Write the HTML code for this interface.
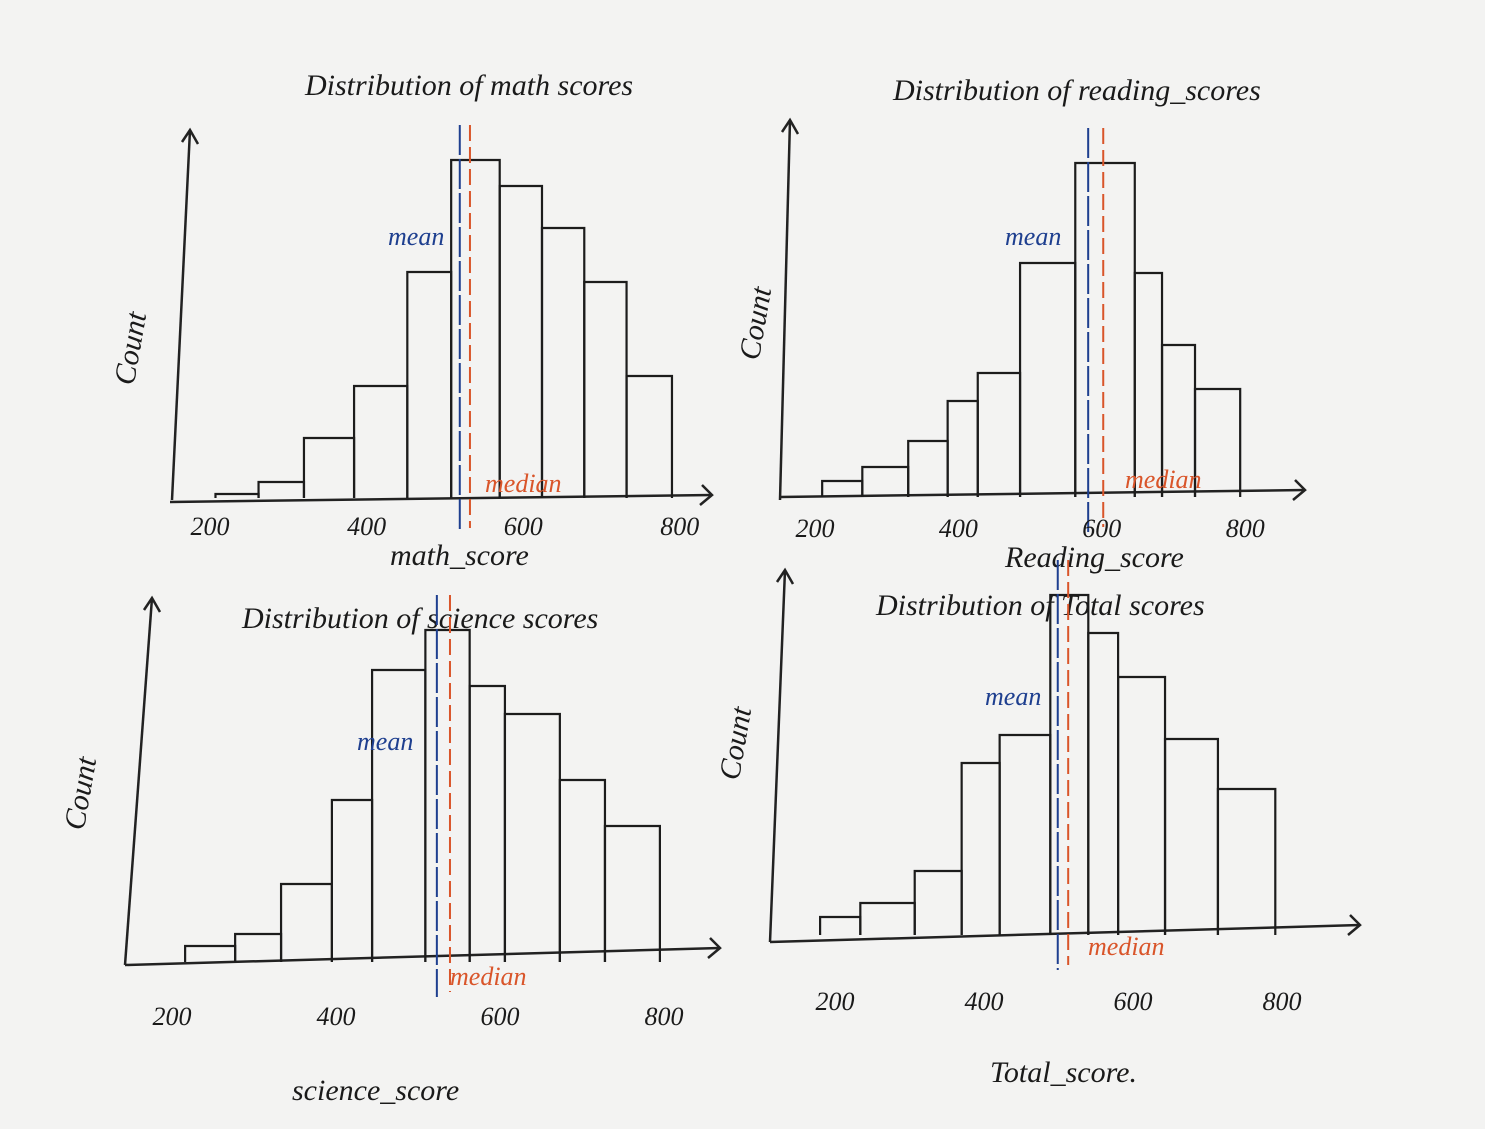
<!DOCTYPE html>
<html><head><meta charset="utf-8">
<style>
html,body{margin:0;padding:0;background:#f3f3f2;}
svg{display:block;}
text{font-family:"Liberation Serif",serif;font-style:italic;}
</style></head>
<body>
<svg id="chart" width="1485" height="1129" viewBox="0 0 1485 1129" xmlns="http://www.w3.org/2000/svg">
<rect x="0" y="0" width="1485" height="1129" fill="#f3f3f2"/>
</svg>
<script>
// Data: bin edges (score), counts per bin, mean & median (score)
const mathEdges = [207, 262, 320, 384, 452, 508, 570, 624, 678, 732, 790];
const mathCounts = [2, 8, 30, 56, 113, 169, 156, 135, 108, 61];
const mathStats = [519, 532];
const readingEdges = [210, 266, 330, 385, 427, 486, 563, 646, 684, 730, 793];
const readingCounts = [8, 15, 28, 48, 62, 117, 167, 112, 76, 54];
const readingStats = [581, 602];
const scienceEdges = [216, 277, 333, 395, 444, 509, 563, 606, 673, 728, 795];
const scienceCounts = [8, 14, 39, 81, 146, 166, 138, 124, 91, 68];
const scienceStats = [523, 539];
const totalEdges = [180, 234, 307, 370, 421, 489, 540, 580, 643, 714, 791];
const totalCounts = [9, 16, 32, 86, 100, 170, 151, 129, 98, 73];
const totalStats = [499, 513];
const tickLabels = ["200", "400", "600", "800"];
const tickValues = [200, 400, 600, 800];

const panels = [
 {id:"math", edges:mathEdges, counts:mathCounts, stats:mathStats, x0:210, sx:0.783, base:498, sy:2,
  ax:[172,500,190,130], xa:[170,502,712,495], title:"Distribution of math scores", tx:305, ty:95, xlab:"math_score", xlx:390, xly:565, ylx:140, yly:350,
  meanLab:[388,245], medLab:[485,492], tickY:535},
 {id:"reading", edges:readingEdges, counts:readingCounts, stats:readingStats, x0:815, sx:0.717, base:497, sy:2,
  ax:[780,500,790,120], xa:[780,497,1305,490], title:"Distribution of reading_scores", tx:893, ty:100, xlab:"Reading_score", xlx:1005, xly:567, ylx:765, yly:325,
  meanLab:[1005,245], medLab:[1125,488], tickY:537},
 {id:"science", edges:scienceEdges, counts:scienceCounts, stats:scienceStats, x0:172, sx:0.82, base:962, sy:2,
  ax:[125,965,152,598], xa:[125,965,720,948], title:"Distribution of science scores", tx:242, ty:628, xlab:"science_score", xlx:292, xly:1100, ylx:90, yly:795,
  meanLab:[357,750], medLab:[450,985], tickY:1025},
 {id:"total", edges:totalEdges, counts:totalCounts, stats:totalStats, x0:835, sx:0.745, base:935, sy:2,
  ax:[770,942,785,570], xa:[770,942,1360,925], title:"Distribution of Total scores", tx:876, ty:615, xlab:"Total_score.", xlx:990, xly:1082, ylx:745, yly:745,
  meanLab:[985,705], medLab:[1088,955], tickY:1010}
];

const svg = document.getElementById('chart');
const NS = "http://www.w3.org/2000/svg";
function mk(tag, attrs){const e=document.createElementNS(NS,tag);for(const k in attrs)e.setAttribute(k,attrs[k]);svg.appendChild(e);return e;}

panels.forEach(p=>{
  const xs = v => p.x0 + (v-200)*p.sx;
  const ys = c => p.base - c*p.sy;
  // title
  let t = mk('text',{x:p.tx,y:p.ty,'font-size':30,fill:'#1a1a1a'}); t.textContent=p.title;
  
  
  // y axis
  let ya = mk('line',{x1:p.ax[0],y1:p.ax[1],x2:p.ax[2],y2:p.ax[3],stroke:'#222','stroke-width':2.5});
  
  
  let yh = mk('polyline',{points:`${p.ax[2]-8},${p.ax[3]+12} ${p.ax[2]},${p.ax[3]} ${p.ax[2]+8},${p.ax[3]+14}`,fill:'none',stroke:'#222','stroke-width':2.5});
  
  
  // x axis
  let xa = mk('line',{x1:p.xa[0],y1:p.xa[1],x2:p.xa[2],y2:p.xa[3],stroke:'#222','stroke-width':2.5});
  
  
  let xh = mk('polyline',{points:`${p.xa[2]-10},${p.xa[3]-10} ${p.xa[2]},${p.xa[3]} ${p.xa[2]-12},${p.xa[3]+10}`,fill:'none',stroke:'#222','stroke-width':2.5});
  
  
  // bars
  p.counts.forEach((c,i)=>{
    const x1=xs(p.edges[i]), x2=xs(p.edges[i+1]), y=ys(c);
    const b = mk('polyline',{points:`${x1},${p.base} ${x1},${y} ${x2},${y} ${x2},${p.base}`,fill:'none',stroke:'#1c1c1c','stroke-width':2.2});
    
    
  });
  const top = Math.min(...p.counts.map(ys)) - 35;
  // mean line
  const mx = xs(p.stats[0]);
  let ml = mk('line',{x1:mx,y1:top,x2:mx,y2:p.base+35,stroke:'#1e3f8f','stroke-width':2,'stroke-dasharray':'30 4'});
  
  
  const dx = xs(p.stats[1]);
  let dl = mk('line',{x1:dx,y1:top,x2:dx,y2:p.base+30,stroke:'#d9552a','stroke-width':2,'stroke-dasharray':'16 6'});
  
  
  let mt = mk('text',{x:p.meanLab[0],y:p.meanLab[1],'font-size':26,fill:'#1e3f8f'}); mt.textContent='mean';
  
  
  let dt = mk('text',{x:p.medLab[0],y:p.medLab[1],'font-size':26,fill:'#d9552a'}); dt.textContent='median';
  
  
  // ticks
  tickValues.forEach((v,i)=>{
    const tl = mk('text',{x:xs(v),y:p.tickY,'font-size':26,fill:'#1a1a1a','text-anchor':'middle'});
    tl.textContent = tickLabels[i];
    
    
  });
  let xl = mk('text',{x:p.xlx,y:p.xly,'font-size':30,fill:'#1a1a1a'}); xl.textContent=p.xlab;
  
  
  let yl = mk('text',{x:p.ylx,y:p.yly,'font-size':30,fill:'#1a1a1a','text-anchor':'middle',transform:`rotate(-80 ${p.ylx} ${p.yly})`}); yl.textContent='Count';
  
  
});
</script>
</body></html>
